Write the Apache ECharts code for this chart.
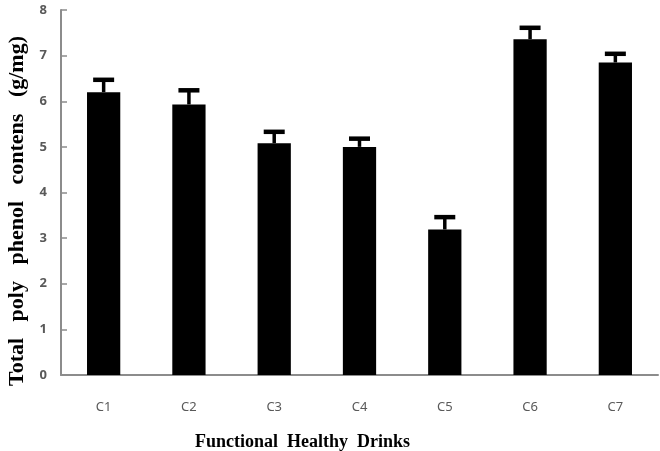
<!DOCTYPE html>
<html>
<head>
<meta charset="utf-8">
<script src="https://cdn.jsdelivr.net/npm/echarts@6/dist/echarts.min.js"></script>
<style>
  html, body { margin: 0; padding: 0; background: #fff; }
  #chart { width: 660px; height: 451px; }
</style>
</head>
<body>
<div id="chart"></div>
<script>
// drinks on the x axis
const drinks = ['C1', 'C2', 'C3', 'C4', 'C5', 'C6', 'C7'];
// mean total polyphenol content (g/mg)
const contents = [6.2, 5.93, 5.08, 5.0, 3.19, 7.36, 6.85];
// upper error (standard deviation)
const errors = [0.27, 0.31, 0.25, 0.18, 0.27, 0.25, 0.19];

const errData = drinks.map((d, i) => [i, contents[i], contents[i] + errors[i]]);

let chart = echarts.init(document.getElementById('chart'));

chart.setOption({
  animation: false,
  grid: {
    left: 61,
    right: 2,
    top: 10,
    bottom: 76,
    containLabel: false,
    outerBoundsMode: 'none'
  },
  xAxis: {
    type: 'category',
    data: drinks,
    name: 'Functional  Healthy  Drinks',
    nameLocation: 'middle',
    nameGap: 58,
    nameTextStyle: {
      fontFamily: 'Liberation Serif',
      fontWeight: 'bold',
      fontSize: 18,
      color: '#000',
      padding: [0, 114, 0, 0]
    },
    axisLine: { lineStyle: { color: '#8c8c8c', width: 2 } },
    axisTick: { inside: true, length: 6, lineStyle: { color: '#8c8c8c', width: 1.5 } },
    axisLabel: {
      margin: 26,
      fontFamily: 'Noto Sans',
      fontSize: 13,
      color: '#595959'
    }
  },
  yAxis: {
    type: 'value',
    min: 0,
    max: 8,
    interval: 1,
    name: 'Total   poly   phenol   contens   (g/mg)',
    nameLocation: 'middle',
    nameGap: 33,
    nameTextStyle: {
      fontFamily: 'Liberation Serif',
      fontWeight: 'bold',
      fontSize: 22,
      color: '#000',
      padding: [0, 37, 0, 0]
    },
    splitLine: { show: false },
    axisLine: { show: true, lineStyle: { color: '#8c8c8c', width: 2 } },
    axisTick: { show: true, inside: true, length: 6, lineStyle: { color: '#8c8c8c', width: 1.5 } },
    axisLabel: {
      margin: 14,
      fontFamily: 'Noto Sans',
      fontWeight: 'bold',
      fontSize: 13,
      color: '#595959'
    }
  },
  series: [
    {
      type: 'bar',
      data: contents,
      barWidth: '39%',
      itemStyle: { color: '#000' }
    },
    {
      type: 'custom',
      data: errData,
      z: 3,
      renderItem: function (params, api) {
        let low = api.coord([api.value(0), api.value(1)]);
        let high = api.coord([api.value(0), api.value(2)]);
        let half = 10.5;
        return {
          type: 'group',
          children: [
            {
              type: 'line',
              shape: { x1: low[0], y1: low[1], x2: high[0], y2: high[1] },
              style: { stroke: '#000', lineWidth: 3.5 }
            },
            {
              type: 'line',
              shape: { x1: high[0] - half, y1: high[1], x2: high[0] + half, y2: high[1] },
              style: { stroke: '#000', lineWidth: 4.5 }
            }
          ]
        };
      }
    }
  ]
});
</script>
</body>
</html>
